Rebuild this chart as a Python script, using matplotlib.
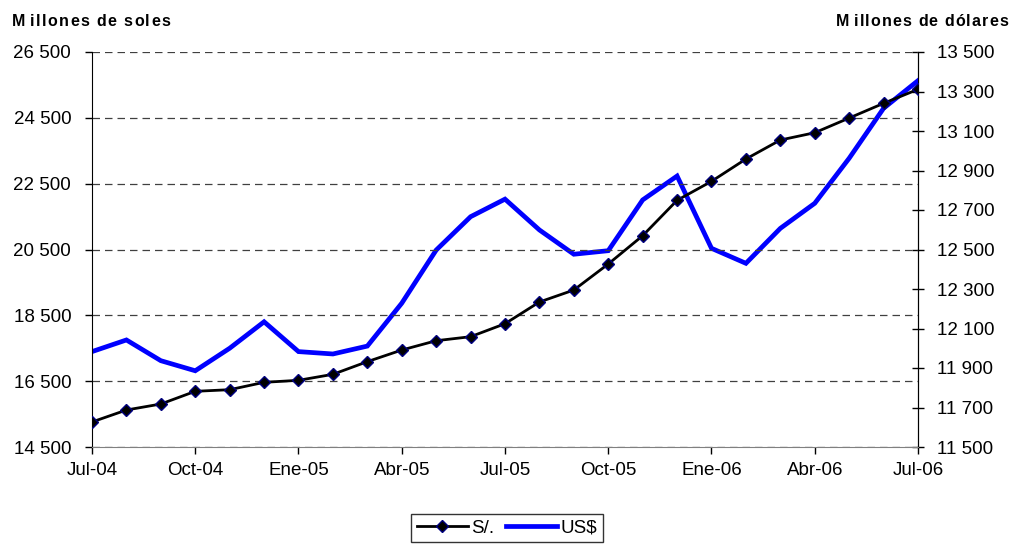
import matplotlib
matplotlib.use("Agg")
import matplotlib.pyplot as plt
from matplotlib.lines import Line2D

plt.rcParams['font.family'] = ['Liberation Sans', 'DejaVu Sans']

months = ["Jul-04", "Ago-04", "Sep-04", "Oct-04", "Nov-04", "Dic-04",
          "Ene-05", "Feb-05", "Mar-05", "Abr-05", "May-05", "Jun-05",
          "Jul-05", "Ago-05", "Sep-05", "Oct-05", "Nov-05", "Dic-05",
          "Ene-06", "Feb-06", "Mar-06", "Abr-06", "May-06", "Jun-06", "Jul-06"]

soles = [15260, 15624, 15806, 16192, 16241, 16465,
         16526, 16708, 17093, 17446, 17729, 17851,
         18245, 18905, 19269, 20059, 20919, 21994,
         22571, 23249, 23826, 24048, 24494, 24941, 25366]

dolares = [11983, 12042, 11937, 11886, 12000, 12134,
           11983, 11971, 12011, 12228, 12497, 12666,
           12755, 12599, 12476, 12494, 12751, 12872,
           12506, 12430, 12607, 12734, 12962, 13215, 13355]

xtick_labels = ["Jul-04", "Oct-04", "Ene-05", "Abr-05", "Jul-05",
                "Oct-05", "Ene-06", "Abr-06", "Jul-06"]
left_ticks = [14500, 16500, 18500, 20500, 22500, 24500, 26500]
right_ticks = [11500, 11700, 11900, 12100, 12300, 12500, 12700, 12900, 13100, 13300, 13500]

title_left = "Millones de soles"
title_right = "Millones de dólares"

def fmt(v):
    return f"{v:,}".replace(",", " ")

FS = 13.5

fig = plt.figure(figsize=(10.12, 5.49), dpi=100)
ax = fig.add_axes([92/1012, 1-447/549, (918-92)/1012, (447-52)/549])
ax2 = ax.twinx()

x = list(range(len(months)))

ax2.plot(x, dolares, color="#0000FF", lw=3.4, solid_joinstyle="miter", zorder=3)
ax.plot(x, soles, color="black", lw=2.0, marker="D", markersize=6.5,
        markerfacecolor="black", markeredgecolor="#000080", markeredgewidth=1.0, zorder=3)

ax.set_zorder(ax2.get_zorder() + 1)
ax.patch.set_visible(False)

ax.set_xlim(0, 24)
ax.set_ylim(14500, 26500)
ax2.set_ylim(11500, 13500)

ax.set_xticks(list(range(0, 25, 3)))
ax.set_xticklabels(xtick_labels, fontsize=FS)
ax.set_yticks(left_ticks)
ax.set_yticklabels([fmt(v) for v in left_ticks], fontsize=FS)
ax2.set_yticks(right_ticks)
ax2.set_yticklabels([fmt(v) for v in right_ticks], fontsize=FS)

ax.tick_params(axis="x", direction="out", length=5, width=1, pad=6, color="black")
ax.tick_params(axis="y", direction="out", length=5, width=1, pad=10, color="black")
ax2.tick_params(axis="y", direction="inout", length=8, width=1, pad=10, color="black")

for a in (ax, ax2):
    a.spines["top"].set_visible(False)
ax.spines["left"].set_color("black")
ax.spines["bottom"].set_color("#808080")
ax2.spines["right"].set_color("black")
ax2.spines["left"].set_visible(False)
ax2.spines["bottom"].set_visible(False)

ax.yaxis.grid(True, linestyle=(0, (6, 4)), color="#404040", linewidth=0.9)
ax.set_axisbelow(True)

# letter-spaced bold titles
renderer = fig.canvas.get_renderer()

def char_width(ch, **kw):
    if ch == " ":
        a = fig.text(0, 0, "aa", **kw)
        b = fig.text(0, 0, "a a", **kw)
        w = b.get_window_extent(renderer).width - a.get_window_extent(renderer).width
        a.remove(); b.remove()
        return w
    t = fig.text(0, 0, ch, **kw)
    w = t.get_window_extent(renderer).width
    t.remove()
    return w

def tracked_text(s, x_px, y_px, tracking, align="left", extra=None, **kw):
    extra = extra or {}
    widths = [char_width(c, **kw) + extra.get(i, 0) for i, c in enumerate(s)]
    total = sum(widths) + tracking * (len(s) - 1)
    start = x_px if align == "left" else x_px - total
    cur = start
    for c, w in zip(s, widths):
        if c != " ":
            fig.text(cur / 1012, 1 - y_px / 549, c, ha="left", va="center", **kw)
        cur += w + tracking

tkw = dict(fontsize=11.5, fontweight="bold")
tracked_text(title_left, 12, 22, 1.4, align="left", extra={0: 3}, **tkw)
tracked_text(title_right, 1008, 22, 1.1, align="right", extra={0: 3}, **tkw)

handles = [Line2D([], [], color="black", lw=2.0, marker="D", markersize=6.5,
                  markerfacecolor="black", markeredgecolor="#000080"),
           Line2D([], [], color="#0000FF", lw=3.4)]
leg = fig.legend(handles, ["S/.", "US$"], loc="upper center", ncol=2,
                 bbox_to_anchor=(507/1012, 1-514/549), bbox_transform=fig.transFigure,
                 fontsize=FS, frameon=True, fancybox=False, edgecolor="black",
                 handlelength=2.7, handletextpad=0.2, columnspacing=0.6,
                 borderpad=0.3, borderaxespad=0)
leg.get_frame().set_linewidth(1.0)

fig.savefig("out.png", dpi=100)
